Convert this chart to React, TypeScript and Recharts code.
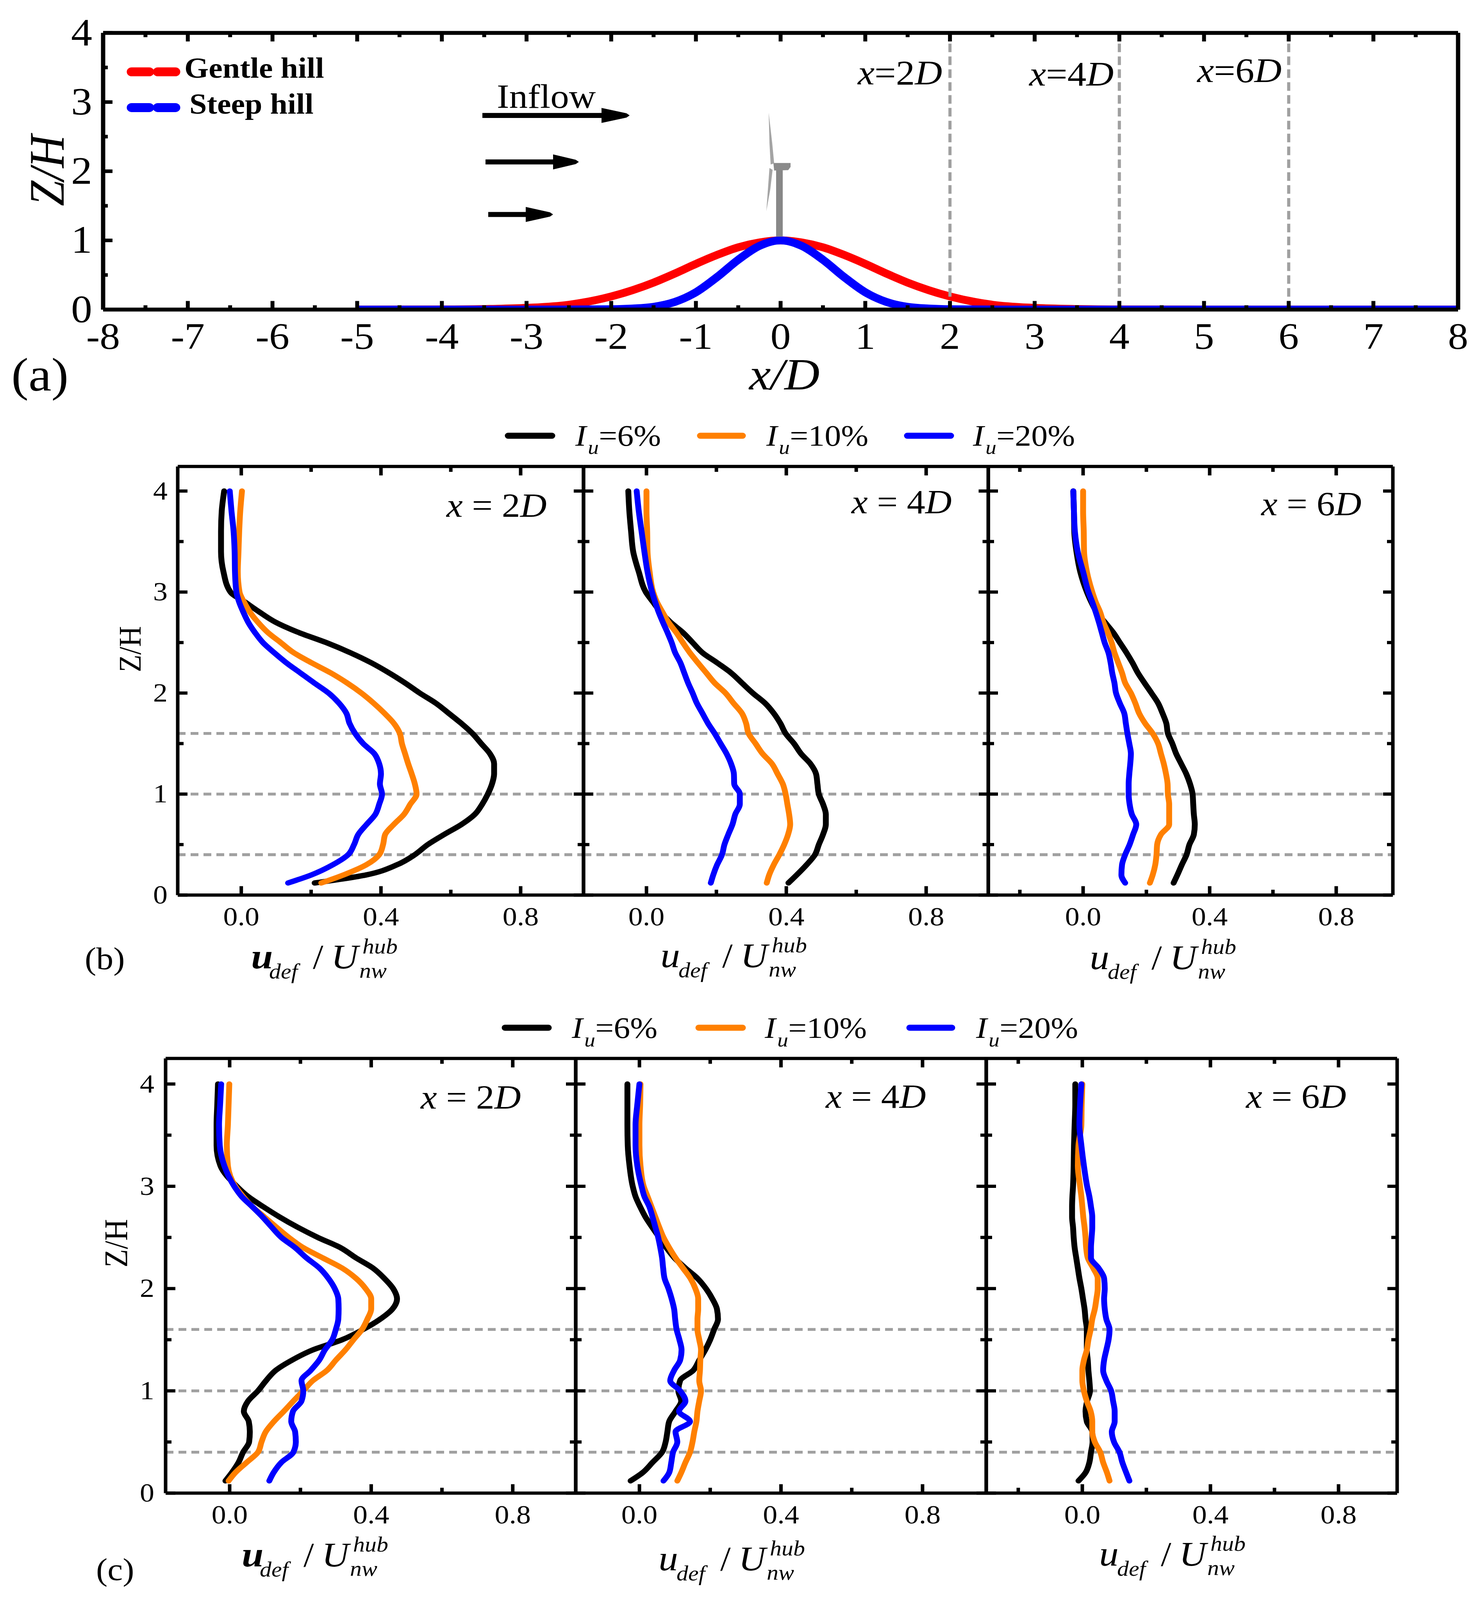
import { LineChart, Line, XAxis, YAxis, ReferenceLine } from 'recharts'

const SERIF = '"Liberation Serif", serif'
const GREY = '#a0a0a0'
const SERIES_COLORS = { black: '#000000', orange: '#ff8000', blue: '#0000ff' }

// the browser window stops at 4096px, so the 4476px tall figure is fitted into it
const FIT_Y = 4096 / 4476

// panel (a): hill shapes
const HILL_X = [-5, -4, -3.5, -3, -2.5, -2, -1.75, -1.5, -1.25, -1, -0.75, -0.5, -0.25, 0, 0.25, 0.5, 0.75, 1, 1.25, 1.5, 1.75, 2, 2.5, 3, 3.5, 4, 5, 6, 7, 8]
const GENTLE_HILL = [0, 0.002, 0.008, 0.025, 0.07, 0.19, 0.28, 0.39, 0.52, 0.66, 0.79, 0.9, 0.97, 1, 0.97, 0.9, 0.79, 0.66, 0.52, 0.39, 0.28, 0.19, 0.07, 0.025, 0.008, 0.002, 0, 0, 0, 0]
const STEEP_HILL = [0, 0, 0, 0, 0.001, 0.005, 0.015, 0.04, 0.11, 0.25, 0.47, 0.72, 0.92, 1, 0.92, 0.72, 0.47, 0.25, 0.11, 0.04, 0.015, 0.005, 0.001, 0, 0, 0, 0, 0, 0, 0]
const HILL_X_TICKS = [-8, -7.5, -7, -6.5, -6, -5.5, -5, -4.5, -4, -3.5, -3, -2.5, -2, -1.5, -1, -0.5, 0, 0.5, 1, 1.5, 2, 2.5, 3, 3.5, 4, 4.5, 5, 5.5, 6, 6.5, 7, 7.5, 8]
const STATIONS = [2, 4, 6]

// panels (b) and (c): profiles, all read at these heights
const Z_LEVELS = [4, 3.8, 3.6, 3.4, 3.2, 3, 2.9, 2.8, 2.7, 2.6, 2.5, 2.4, 2.3, 2.2, 2.1, 2, 1.9, 1.8, 1.7, 1.6, 1.5, 1.4, 1.3, 1.2, 1.1, 1, 0.9, 0.8, 0.7, 0.6, 0.5, 0.4, 0.3, 0.2, 0.12]
const Z_TICKS = [0, 0.5, 1, 1.5, 2, 2.5, 3, 3.5, 4]
const Z_GUIDES = [0.4, 1, 1.6]
const DEF_TICKS = [-0.2, 0, 0.2, 0.4, 0.6, 0.8]

const B_2D_BLACK = [-0.049, -0.056, -0.058, -0.058, -0.051, -0.031, 0.011, 0.053, 0.099, 0.164, 0.243, 0.312, 0.372, 0.423, 0.469, 0.511, 0.557, 0.594, 0.63, 0.662, 0.687, 0.712, 0.724, 0.724, 0.718, 0.706, 0.69, 0.669, 0.631, 0.581, 0.534, 0.497, 0.446, 0.358, 0.21]
const B_2D_ORANGE = [0.002, -0.003, -0.006, -0.008, -0.01, -0.005, 0.008, 0.025, 0.048, 0.076, 0.113, 0.15, 0.201, 0.256, 0.303, 0.344, 0.379, 0.41, 0.437, 0.454, 0.46, 0.469, 0.478, 0.488, 0.497, 0.502, 0.484, 0.466, 0.437, 0.412, 0.406, 0.395, 0.358, 0.293, 0.229]
const B_2D_BLUE = [-0.033, -0.028, -0.022, -0.019, -0.018, -0.014, -0.006, 0.006, 0.02, 0.039, 0.062, 0.094, 0.129, 0.169, 0.209, 0.25, 0.28, 0.301, 0.31, 0.326, 0.349, 0.381, 0.395, 0.4, 0.397, 0.403, 0.395, 0.384, 0.359, 0.335, 0.323, 0.306, 0.262, 0.201, 0.134]

const B_4D_BLACK = [-0.052, -0.049, -0.044, -0.038, -0.022, -0.002, 0.019, 0.041, 0.069, 0.104, 0.132, 0.16, 0.202, 0.242, 0.273, 0.304, 0.339, 0.364, 0.383, 0.398, 0.422, 0.442, 0.469, 0.485, 0.489, 0.493, 0.505, 0.513, 0.513, 0.505, 0.493, 0.482, 0.458, 0.43, 0.406]
const B_4D_ORANGE = [0, 0, 0.002, 0.003, 0.009, 0.019, 0.03, 0.046, 0.063, 0.085, 0.104, 0.124, 0.147, 0.171, 0.195, 0.226, 0.249, 0.273, 0.285, 0.292, 0.312, 0.332, 0.359, 0.375, 0.39, 0.398, 0.403, 0.408, 0.411, 0.405, 0.394, 0.38, 0.364, 0.351, 0.344]
const B_4D_BLUE = [-0.028, -0.022, -0.014, -0.006, 0.003, 0.016, 0.025, 0.035, 0.047, 0.06, 0.072, 0.082, 0.097, 0.108, 0.119, 0.132, 0.144, 0.16, 0.176, 0.195, 0.212, 0.229, 0.242, 0.25, 0.251, 0.267, 0.267, 0.254, 0.246, 0.234, 0.223, 0.216, 0.202, 0.191, 0.184]

const B_6D_BLACK = [-0.031, -0.029, -0.028, -0.021, -0.009, 0.012, 0.026, 0.043, 0.069, 0.095, 0.116, 0.137, 0.156, 0.173, 0.194, 0.216, 0.237, 0.251, 0.263, 0.268, 0.282, 0.294, 0.31, 0.326, 0.338, 0.346, 0.348, 0.35, 0.353, 0.35, 0.336, 0.327, 0.312, 0.298, 0.286]
const B_6D_ORANGE = [0, 0, 0.002, 0.003, 0.012, 0.029, 0.04, 0.054, 0.064, 0.078, 0.09, 0.099, 0.111, 0.123, 0.133, 0.151, 0.165, 0.177, 0.196, 0.22, 0.237, 0.246, 0.255, 0.262, 0.267, 0.268, 0.272, 0.272, 0.272, 0.246, 0.234, 0.232, 0.228, 0.22, 0.211]
const B_6D_BLUE = [-0.031, -0.029, -0.026, -0.017, 0, 0.017, 0.029, 0.04, 0.05, 0.059, 0.068, 0.08, 0.087, 0.092, 0.099, 0.104, 0.116, 0.13, 0.135, 0.14, 0.146, 0.151, 0.149, 0.146, 0.144, 0.144, 0.147, 0.154, 0.168, 0.158, 0.147, 0.133, 0.123, 0.121, 0.133]

const C_2D_BLACK = [-0.033, -0.035, -0.037, -0.037, -0.026, 0.02, 0.052, 0.095, 0.141, 0.192, 0.249, 0.313, 0.357, 0.405, 0.437, 0.462, 0.473, 0.46, 0.425, 0.377, 0.318, 0.235, 0.176, 0.13, 0.103, 0.08, 0.052, 0.04, 0.054, 0.057, 0.055, 0.038, 0.025, 0.006, -0.012]
const C_2D_ORANGE = [-0.001, -0.003, -0.005, -0.008, -0.005, 0.016, 0.038, 0.064, 0.098, 0.132, 0.167, 0.208, 0.263, 0.318, 0.357, 0.384, 0.4, 0.4, 0.389, 0.374, 0.35, 0.327, 0.3, 0.275, 0.235, 0.208, 0.18, 0.153, 0.125, 0.102, 0.09, 0.08, 0.048, 0.016, -0.003]
const C_2D_BLUE = [-0.024, -0.027, -0.03, -0.028, -0.015, 0.013, 0.034, 0.064, 0.093, 0.119, 0.146, 0.185, 0.217, 0.254, 0.279, 0.297, 0.307, 0.308, 0.307, 0.3, 0.29, 0.269, 0.253, 0.229, 0.203, 0.208, 0.203, 0.179, 0.174, 0.185, 0.187, 0.18, 0.146, 0.124, 0.112]

const C_4D_BLACK = [-0.034, -0.034, -0.034, -0.033, -0.028, -0.019, -0.011, 0.002, 0.017, 0.036, 0.056, 0.076, 0.099, 0.13, 0.164, 0.188, 0.206, 0.219, 0.222, 0.211, 0.2, 0.186, 0.169, 0.152, 0.115, 0.11, 0.118, 0.102, 0.084, 0.079, 0.074, 0.064, 0.037, 0.009, -0.025]
const C_4D_ORANGE = [0.003, 0.002, 0, 0, 0.003, 0.012, 0.023, 0.034, 0.045, 0.056, 0.068, 0.084, 0.102, 0.123, 0.144, 0.158, 0.166, 0.166, 0.164, 0.164, 0.169, 0.174, 0.172, 0.171, 0.169, 0.174, 0.169, 0.164, 0.161, 0.155, 0.15, 0.143, 0.13, 0.118, 0.107]
const C_4D_BLUE = [0, -0.006, -0.011, -0.011, -0.006, 0.006, 0.014, 0.028, 0.037, 0.045, 0.053, 0.059, 0.064, 0.067, 0.071, 0.082, 0.091, 0.098, 0.101, 0.105, 0.113, 0.119, 0.115, 0.098, 0.087, 0.115, 0.13, 0.112, 0.143, 0.102, 0.107, 0.095, 0.09, 0.084, 0.068]

const C_6D_BLACK = [-0.022, -0.022, -0.024, -0.026, -0.027, -0.029, -0.031, -0.032, -0.032, -0.029, -0.027, -0.024, -0.019, -0.014, -0.009, -0.003, 0.002, 0.007, 0.01, 0.014, 0.014, 0.014, 0.017, 0.019, 0.022, 0.024, 0.015, 0.01, 0.014, 0.031, 0.032, 0.027, 0.022, 0.01, -0.012]
const C_6D_ORANGE = [0, -0.002, -0.003, -0.012, -0.014, -0.007, -0.003, 0, 0.003, 0.007, 0.01, 0.012, 0.017, 0.034, 0.048, 0.048, 0.044, 0.039, 0.031, 0.026, 0.019, 0.014, 0.005, 0, 0, 0.005, 0.014, 0.026, 0.031, 0.031, 0.039, 0.056, 0.065, 0.077, 0.085]
const C_6D_BLUE = [-0.003, -0.007, -0.009, -0.003, 0.005, 0.015, 0.022, 0.027, 0.031, 0.031, 0.029, 0.027, 0.027, 0.051, 0.068, 0.07, 0.068, 0.07, 0.075, 0.085, 0.082, 0.075, 0.068, 0.065, 0.075, 0.09, 0.096, 0.101, 0.101, 0.092, 0.099, 0.116, 0.125, 0.137, 0.147]

const M = 200
const chartMargin = { top: M - 1, right: M - 1, bottom: M - 1, left: M - 1 }

type Side = 'top' | 'bottom' | 'left' | 'right'

function tickRenderer(side: Side, opts: { major: number; minor: number; width: number; isMajor: (v: number) => boolean; label?: (v: number) => string; fontSize?: number; gap?: number }) {
  return ({ x, y, payload }: any) => {
    const major = opts.isMajor(payload.value)
    const len = major ? opts.major : opts.minor
    const dx = side === 'left' ? len : side === 'right' ? -len : 0
    const dy = side === 'top' ? len : side === 'bottom' ? -len : 0
    const showLabel = major && opts.label
    return (
      <g>
        <line x1={x} y1={y} x2={x + dx} y2={y + dy} stroke="#000" strokeWidth={opts.width} />
        {showLabel && side === 'bottom' && (
          <text x={x} y={y + opts.gap!} textAnchor="middle" fontFamily={SERIF} fontSize={opts.fontSize} fill="#000">
            {opts.label!(payload.value)}
          </text>
        )}
        {showLabel && side === 'left' && (
          <text x={x - opts.gap!} y={y + opts.fontSize! * 0.32} textAnchor="end" fontFamily={SERIF} fontSize={opts.fontSize} fill="#000">
            {opts.label!(payload.value)}
          </text>
        )}
      </g>
    )
  }
}

const isInt = (v: number) => Number.isInteger(v)
const isDefMajor = (v: number) => [0, 0.4, 0.8].includes(v)

function HillPanel() {
  const left = 264, right = 3733, top = 91.5, bottom = 865.5
  const rows = HILL_X.map((x, i) => ({ x, gentle: GENTLE_HILL[i], steep: STEEP_HILL[i] }))
  const xt = { major: 24, minor: 12, width: 10, isMajor: isInt }
  const frame = { stroke: '#000', strokeWidth: 11 }
  return (
    <div style={{ position: 'absolute', left: left - M, top: top - M }}>
      <LineChart width={right - left + 2 * M} height={bottom - top + 2 * M} data={rows} margin={chartMargin}>
        <Line xAxisId="b" yAxisId="l" dataKey="gentle" type="monotone" stroke="#ff0000" strokeWidth={22} dot={false} isAnimationActive={false} />
        <Line xAxisId="b" yAxisId="l" dataKey="steep" type="monotone" stroke="#0000ff" strokeWidth={22} dot={false} isAnimationActive={false} />
        {STATIONS.map((s) => (
          <ReferenceLine key={s} xAxisId="b" yAxisId="l" x={s} stroke={GREY} strokeWidth={8} strokeDasharray="24 12" />
        ))}
        <XAxis xAxisId="b" dataKey="x" type="number" domain={[-8, 8]} allowDataOverflow ticks={HILL_X_TICKS} interval={0} height={1} tickSize={0} tickMargin={0} tickLine={false} axisLine={frame} tick={tickRenderer('bottom', { ...xt, label: String, fontSize: 104, gap: 110 })} />
        <XAxis xAxisId="t" orientation="top" dataKey="x" type="number" domain={[-8, 8]} allowDataOverflow ticks={HILL_X_TICKS} interval={0} height={1} tickSize={0} tickMargin={0} tickLine={false} axisLine={frame} tick={tickRenderer('top', xt)} />
        <YAxis yAxisId="l" type="number" domain={[0, 4]} allowDataOverflow ticks={Z_TICKS} interval={0} width={1} tickSize={0} tickMargin={0} tickLine={false} axisLine={frame} tick={tickRenderer('left', { ...xt, label: String, fontSize: 108, gap: 28 })} />
        <YAxis yAxisId="r" orientation="right" type="number" domain={[0, 4]} allowDataOverflow ticks={Z_TICKS} interval={0} width={1} tickSize={0} tickMargin={0} tickLine={false} axisLine={frame} tick={false} />
      </LineChart>
    </div>
  )
}

interface ProfileProps {
  left: number
  right: number
  top: number
  bottom: number
  xDomain: [number, number]
  zMax: number
  black: number[]
  orange: number[]
  blue: number[]
  zLabels?: number
}

function ProfilePanel({ left, right, top, bottom, xDomain, zMax, black, orange, blue, zLabels }: ProfileProps) {
  const rows = Z_LEVELS.map((z, i) => ({ z, black: black[i], orange: orange[i], blue: blue[i] }))
  const ticks = DEF_TICKS.filter((t) => t > xDomain[0])
  const xt = { major: 25, minor: 15, width: 9, isMajor: isDefMajor }
  const zt = { major: 25, minor: 15, width: 9, isMajor: isInt }
  const frame = { stroke: '#000', strokeWidth: 9 }
  return (
    <div style={{ position: 'absolute', left: left - M, top: top - M }}>
      <LineChart layout="vertical" width={right - left + 2 * M} height={bottom - top + 2 * M} data={rows} margin={chartMargin}>
        {Z_GUIDES.map((g) => (
          <ReferenceLine key={g} xAxisId="b" yAxisId="l" y={g} stroke={GREY} strokeWidth={8} strokeDasharray="20 13" />
        ))}
        <Line xAxisId="b" yAxisId="l" dataKey="black" type="monotone" stroke={SERIES_COLORS.black} strokeWidth={15} strokeLinecap="round" dot={false} isAnimationActive={false} />
        <Line xAxisId="b" yAxisId="l" dataKey="orange" type="monotone" stroke={SERIES_COLORS.orange} strokeWidth={15} strokeLinecap="round" dot={false} isAnimationActive={false} />
        <Line xAxisId="b" yAxisId="l" dataKey="blue" type="monotone" stroke={SERIES_COLORS.blue} strokeWidth={15} strokeLinecap="round" dot={false} isAnimationActive={false} />
        <XAxis xAxisId="b" type="number" domain={xDomain} allowDataOverflow ticks={ticks} interval={0} height={1} tickSize={0} tickMargin={0} tickLine={false} axisLine={frame} tick={tickRenderer('bottom', { ...xt, label: (v) => v.toFixed(1), fontSize: 74, gap: 85 })} />
        <XAxis xAxisId="t" orientation="top" type="number" domain={xDomain} allowDataOverflow ticks={ticks} interval={0} height={1} tickSize={0} tickMargin={0} tickLine={false} axisLine={frame} tick={tickRenderer('top', xt)} />
        <YAxis yAxisId="l" dataKey="z" type="number" reversed domain={[0, zMax]} allowDataOverflow ticks={Z_TICKS} interval={0} width={1} tickSize={0} tickMargin={0} tickLine={false} axisLine={frame} tick={tickRenderer('left', zLabels ? { ...zt, label: String, fontSize: 74, gap: zLabels } : zt)} />
        <YAxis yAxisId="r" orientation="right" dataKey="z" type="number" reversed domain={[0, zMax]} allowDataOverflow ticks={Z_TICKS} interval={0} width={1} tickSize={0} tickMargin={0} tickLine={false} axisLine={frame} tick={tickRenderer('right', zt)} />
      </LineChart>
    </div>
  )
}

function Txt({ x, y, size, children, ...rest }: any) {
  return (
    <text x={x} y={y} fontFamily={SERIF} fontSize={size} fill="#000" {...rest}>
      {children}
    </text>
  )
}

const It = ({ children }: any) => <tspan fontStyle="italic">{children}</tspan>

function UdefLabel({ x, y, bold }: { x: number; y: number; bold?: boolean }) {
  return (
    <g>
      <Txt x={x} y={y} size={100} fontStyle="italic" fontWeight={bold ? 'bold' : 'normal'}>u</Txt>
      <Txt x={x + 46} y={y + 28} size={60} fontStyle="italic">def</Txt>
      <Txt x={x + 158} y={y} size={96}>/</Txt>
      <Txt x={x + 205} y={y} size={96} fontStyle="italic">U</Txt>
      <Txt x={x + 285} y={y - 42} size={60} fontStyle="italic">hub</Txt>
      <Txt x={x + 277} y={y + 26} size={60} fontStyle="italic">nw</Txt>
    </g>
  )
}

function LegendEntry({ x1, x2, y, color, textX, baseline, label }: any) {
  return (
    <g>
      <line x1={x1 + 9} x2={x2 - 9} y1={y} y2={y} stroke={color} strokeWidth={17} strokeLinecap="round" />
      <Txt x={textX} y={baseline} size={84} fontStyle="italic">I</Txt>
      <Txt x={textX + 32} y={baseline + 23} size={56} fontStyle="italic">u</Txt>
      <Txt x={textX + 60} y={baseline} size={84}>{label}</Txt>
    </g>
  )
}

function HillKey({ y, color }: { y: number; color: string }) {
  return (
    <g stroke={color} strokeWidth={25} strokeLinecap="round">
      <line x1={337} x2={382} y1={y} y2={y} />
      <line x1={404} x2={449} y1={y} y2={y} />
    </g>
  )
}

function Arrow({ x1, x2, headStart, y, thick, head }: any) {
  return (
    <g fill="#000">
      <rect x={x1} y={y - thick / 2} width={headStart - x1 + 2} height={thick} />
      <polygon points={`${headStart},${y - head / 2} ${x2 - 8},${y - 6} ${x2},${y} ${x2 - 8},${y + 6} ${headStart},${y + head / 2}`} />
    </g>
  )
}

function Turbine() {
  return (
    <g>
      <rect x={1987} y={476} width={17} height={186} fill="#888888" />
      <polygon points="1980,456 2024,456 2024,467 2018,476 1982,477" fill="#8a8a8a" />
      <polygon points="1968,315 1977,400 1982,457 1973,460 1970,400" fill="#a4a4a4" />
      <polygon points="1970,470 1978,475 1972,530 1962,591 1966,530" fill="#a4a4a4" />
    </g>
  )
}

function Annotations() {
  return (
    <svg width={3784} height={4476} style={{ position: 'absolute', left: 0, top: 0, pointerEvents: 'none' }}>
      {/* panel a */}
      <Txt x={0} y={0} size={128} fontStyle="italic" textAnchor="middle" transform="translate(163,477) rotate(-90)">Z/H</Txt>
      <HillKey y={201} color="#ff0000" />
      <HillKey y={301} color="#0000ff" />
      <Txt x={472} y={218} size={80} fontWeight="bold">Gentle hill</Txt>
      <Txt x={485} y={318} size={80} fontWeight="bold">Steep hill</Txt>
      <Txt x={1272} y={302} size={95}>Inflow</Txt>
      <Arrow x1={1235} x2={1612} headStart={1540} y={323} thick={14} head={42} />
      <Arrow x1={1243} x2={1482} headStart={1416} y={453} thick={14} head={42} />
      <Arrow x1={1250} x2={1416} headStart={1346} y={600} thick={14} head={42} />
      <Turbine />
      <Txt x={2196} y={236} size={97}><It>x</It>=2<It>D</It></Txt>
      <Txt x={2635} y={239} size={97}><It>x</It>=4<It>D</It></Txt>
      <Txt x={3065} y={229} size={97}><It>x</It>=6<It>D</It></Txt>
      <Txt x={29} y={1093} size={132}>(a)</Txt>
      <Txt x={1918} y={1089} size={125}><It>x/D</It></Txt>

      {/* panel b */}
      <LegendEntry x1={1292} x2={1422} y={1219} color={SERIES_COLORS.black} textX={1473} baseline={1247} label="=6%" />
      <LegendEntry x1={1784} x2={1910} y={1219} color={SERIES_COLORS.orange} textX={1962} baseline={1247} label="=10%" />
      <LegendEntry x1={2314} x2={2443} y={1219} color={SERIES_COLORS.blue} textX={2491} baseline={1247} label="=20%" />
      <Txt x={0} y={0} size={80} textAnchor="middle" transform="translate(360,1816) rotate(-90)">Z/H</Txt>
      <Txt x={1143} y={1446} size={94}><It>x</It> = 2<It>D</It></Txt>
      <Txt x={2180} y={1436} size={94}><It>x</It> = 4<It>D</It></Txt>
      <Txt x={3229} y={1441} size={94}><It>x</It> = 6<It>D</It></Txt>
      <Txt x={217} y={2711} size={88}>(b)</Txt>
      <UdefLabel x={643} y={2709} bold />
      <UdefLabel x={1691} y={2706} />
      <UdefLabel x={2790} y={2711} />

      {/* panel c */}
      <LegendEntry x1={1284} x2={1413} y={2875} color={SERIES_COLORS.black} textX={1464} baseline={2904} label="=6%" />
      <LegendEntry x1={1780} x2={1910} y={2875} color={SERIES_COLORS.orange} textX={1958} baseline={2904} label="=10%" />
      <LegendEntry x1={2320} x2={2446} y={2875} color={SERIES_COLORS.blue} textX={2499} baseline={2904} label="=20%" />
      <Txt x={0} y={0} size={84} textAnchor="middle" transform="translate(326,3478) rotate(-90)">Z/H</Txt>
      <Txt x={1077} y={3101} size={94}><It>x</It> = 2<It>D</It></Txt>
      <Txt x={2114} y={3099} size={94}><It>x</It> = 4<It>D</It></Txt>
      <Txt x={3190} y={3099} size={94}><It>x</It> = 6<It>D</It></Txt>
      <Txt x={246} y={4420} size={88}>(c)</Txt>
      <UdefLabel x={619} y={4382} bold />
      <UdefLabel x={1686} y={4393} />
      <UdefLabel x={2814} y={4380} />
    </svg>
  )
}

export default function App() {
  return (
    <div style={{ position: 'absolute', left: 0, top: 0, width: 3784, height: 4096, overflow: 'hidden', background: '#fff' }}>
      <style>{'html, body { margin: 0; padding: 0; }'}</style>
      <div style={{ position: 'relative', width: 3784, height: 4476, transform: `scaleY(${FIT_Y})`, transformOrigin: '0 0' }}>
        <HillPanel />
        <ProfilePanel left={454.6} right={1493.5} top={1305} bottom={2504} xDomain={[-0.182, 0.98]} zMax={4.243} black={B_2D_BLACK} orange={B_2D_ORANGE} blue={B_2D_BLUE} zLabels={26} />
        <ProfilePanel left={1493.5} right={2530} top={1305} bottom={2504} xDomain={[-0.18, 0.978]} zMax={4.243} black={B_4D_BLACK} orange={B_4D_ORANGE} blue={B_4D_BLUE} />
        <ProfilePanel left={2530} right={3566} top={1305} bottom={2504} xDomain={[-0.3, 0.979]} zMax={4.243} black={B_6D_BLACK} orange={B_6D_ORANGE} blue={B_6D_BLUE} />
        <ProfilePanel left={424} right={1474} top={2961} bottom={4177} xDomain={[-0.181, 0.978]} zMax={4.25} black={C_2D_BLACK} orange={C_2D_ORANGE} blue={C_2D_BLUE} zLabels={29} />
        <ProfilePanel left={1474} right={2525} top={2961} bottom={4177} xDomain={[-0.18, 0.98]} zMax={4.25} black={C_4D_BLACK} orange={C_4D_ORANGE} blue={C_4D_BLUE} />
        <ProfilePanel left={2525} right={3577} top={2961} bottom={4177} xDomain={[-0.3, 0.983]} zMax={4.25} black={C_6D_BLACK} orange={C_6D_ORANGE} blue={C_6D_BLUE} />
        <Annotations />
      </div>
    </div>
  )
}
